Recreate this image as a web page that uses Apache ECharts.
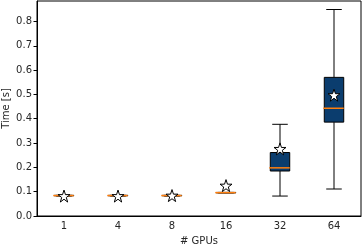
<!DOCTYPE html>
<html><head><meta charset="utf-8">
<script src="https://cdn.jsdelivr.net/npm/echarts@6/dist/echarts.min.js"></script>
<style>html,body{margin:0;padding:0;background:#fff}#c{width:362px;height:245px}</style>
</head><body><div id="c"></div>
<script>
const categories = ['1', '4', '8', '16', '32', '64'];
const whiskerLow = [0.082, 0.082, 0.082, 0.095, 0.082, 0.111];
const q1 = [0.083, 0.083, 0.083, 0.095, 0.185, 0.386];
const median = [0.084, 0.084, 0.084, 0.096, 0.198, 0.443];
const q3 = [0.085, 0.085, 0.085, 0.097, 0.261, 0.570];
const whiskerHigh = [0.085, 0.085, 0.085, 0.097, 0.377, 0.849];
const means = [0.082, 0.082, 0.084, 0.125, 0.276, 0.497];
const yTicks = [0, 0.1, 0.2, 0.3, 0.4, 0.5, 0.6, 0.7, 0.8];

const boxData = categories.map((c, i) => [i, whiskerLow[i], q1[i], median[i], q3[i], whiskerHigh[i]]);
const starPath = 'path://M50,0 L61.8,35.1 L98.6,35.1 L68.8,56.8 L79.4,91.9 L50,70.2 L20.6,91.9 L31.2,56.8 L1.4,35.1 L38.2,35.1 Z';

const chart = echarts.init(document.getElementById('c'), null, {renderer: 'canvas'});
const font = 'DejaVu Sans';
chart.setOption({
  animation: false,
  grid: {left: 37, right: 1, top: 1, bottom: 29, containLabel: false, outerBoundsMode: 'none',
    show: true, borderColor: '#000', borderWidth: 1, backgroundColor: 'transparent'},
  xAxis: {
    type: 'category', data: categories, boundaryGap: true,
    name: '# GPUs', nameLocation: 'middle', nameGap: 20, nameMoveOverlap: false,
    nameTextStyle: {fontFamily: font, fontSize: 10, color: '#262626'},
    axisLine: {lineStyle: {color: '#000'}},
    axisTick: {alignWithLabel: true, length: 3.5, lineStyle: {color: '#000'}},
    axisLabel: {fontFamily: font, fontSize: 10, color: '#262626', margin: 5},
    splitLine: {show: false}
  },
  yAxis: {
    type: 'value', min: 0, max: 0.884, interval: 0.1,
    name: 'Time [s]', nameLocation: 'middle', nameGap: 31, nameMoveOverlap: false,
    nameTextStyle: {fontFamily: font, fontSize: 10, color: '#262626', verticalAlign: 'middle'},
    axisLine: {show: true, lineStyle: {color: '#000'}},
    axisTick: {show: true, length: 3.5, lineStyle: {color: '#000'}},
    axisLabel: {fontFamily: font, fontSize: 10, color: '#262626', margin: 5,
      showMaxLabel: false,
      formatter: v => yTicks.some(t => Math.abs(t - v) < 1e-6) ? v.toFixed(1) : ''},
    splitLine: {show: false}
  },
  series: [
    {
      type: 'custom',
      data: boxData,
      encode: {x: 0, y: [1, 2, 3, 4, 5]},
      renderItem: function (params, api) {
        const i = api.value(0);
        const lo = api.coord([i, api.value(1)]);
        const b1 = api.coord([i, api.value(2)]);
        const md = api.coord([i, api.value(3)]);
        const b3 = api.coord([i, api.value(4)]);
        const hi = api.coord([i, api.value(5)]);
        const band = api.size([1, 0])[0];
        const bw = band * 0.36;
        const cw = bw * 0.8;
        const x = lo[0];
        const blk = {stroke: '#000', lineWidth: 1};
        return {
          type: 'group',
          children: [
            {type: 'line', shape: {x1: x, y1: lo[1], x2: x, y2: b1[1]}, style: blk},
            {type: 'line', shape: {x1: x, y1: b3[1], x2: x, y2: hi[1]}, style: blk},
            {type: 'line', shape: {x1: x - cw / 2, y1: lo[1], x2: x + cw / 2, y2: lo[1]}, style: blk},
            {type: 'line', shape: {x1: x - cw / 2, y1: hi[1], x2: x + cw / 2, y2: hi[1]}, style: blk},
            {type: 'rect', shape: {x: x - bw / 2, y: b3[1], width: bw, height: Math.max(b1[1] - b3[1], 0.5)},
              style: {fill: '#0b3d6e', stroke: '#000', lineWidth: 1}},
            {type: 'line', shape: {x1: x - bw / 2 - 1, y1: md[1], x2: x + bw / 2, y2: md[1]},
              style: {stroke: '#ff7f0e', lineWidth: 1.5}}
          ]
        };
      },
      z: 2
    },
    {
      type: 'scatter',
      data: means.map((m, i) => [i, m]),
      symbol: starPath,
      symbolSize: 12,
      itemStyle: {color: '#fff', borderColor: '#000', borderWidth: 1, opacity: 1},
      z: 3
    }
  ]
});
</script></body></html>
